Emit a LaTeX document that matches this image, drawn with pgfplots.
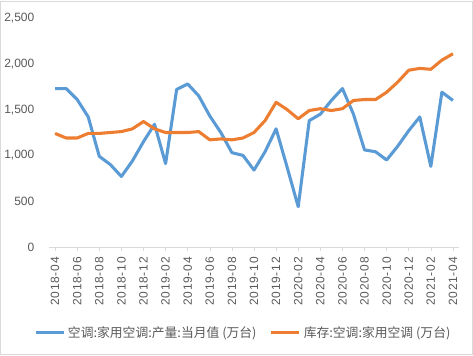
\documentclass[border=0pt]{standalone}
\usepackage{pgfplots}
\usepackage{pgfplotstable}
\pgfplotsset{compat=1.18}
\usepackage{fontspec}
\setmainfont{Liberation Sans}
\newfontfamily\cjk{Noto Sans CJK SC}
\newfontfamily\spaced[LetterSpace=6]{Liberation Sans}
\definecolor{cblue}{HTML}{5B9BD5}
\definecolor{corange}{HTML}{ED7D31}
\definecolor{tgray}{HTML}{595959}
\definecolor{agray}{HTML}{D9D9D9}
\pgfplotstableread{
idx prod inv
0 1730 1240
1 1730 1190
2 1610 1190
3 1420 1240
4 990 1240
5 900 1250
6 770 1260
7 940 1290
8 1150 1370
9 1340 1290
10 910 1250
11 1720 1250
12 1780 1250
13 1650 1260
14 1430 1170
15 1250 1180
16 1030 1170
17 1000 1190
18 840 1250
19 1040 1380
20 1290 1580
21 870 1500
22 440 1400
23 1380 1490
24 1450 1510
25 1600 1490
26 1730 1510
27 1450 1600
28 1060 1610
29 1040 1610
30 950 1690
31 1100 1800
32 1270 1930
33 1420 1950
34 880 1940
35 1690 2040
36 1600 2110
}\datatable
\begin{document}
\begin{tikzpicture}
\begin{axis}[
  scale only axis,
  width=307.5pt, height=171.75pt,
  at={(0,0)}, anchor=south west,
  xmin=-0.55, xmax=36.55,
  ymin=0, ymax=2500,
  axis x line=bottom, axis y line=left,
  axis line style={-, agray},
  y axis line style={draw=none},
  ytick={0,500,...,2500},
  ytick style={draw=none},
  xtick={0,2,...,36},
  xticklabels={2018-04,2018-06,2018-08,2018-10,2018-12,2019-02,2019-04,2019-06,2019-08,2019-10,2019-12,2020-02,2020-04,2020-06,2020-08,2020-10,2020-12,2021-02,2021-04},
  xtick align=outside,
  xtick style={agray, thin},
  major tick length=3pt,
  x tick label style={rotate=90, anchor=east, font=\spaced\fontsize{9}{10}\selectfont, text=tgray, inner xsep=4.5pt, inner ysep=1pt},
  y tick label style={font=\fontsize{9}{10}\selectfont, text=tgray, xshift=-6pt},
  /pgf/number format/assume math mode=true,
  /pgf/number format/1000 sep={,},
  scaled y ticks=false,
  clip=false,
  legend columns=2,
  legend style={at={(-0.037,-0.375)}, anchor=west, draw=none, fill=none,
    font=\cjk\fontsize{9.6}{11}\selectfont, text=tgray, inner xsep=0pt,
    nodes={inner xsep=2pt},
    /tikz/every even column/.append style={column sep=8pt}},
  legend image code/.code={\draw[#1, line width=2.4pt] (0pt,0pt) -- (21pt,0pt);},
]
\addplot[cblue, line width=2.3pt, line join=round, mark=none] table[x=idx, y=prod] {\datatable};
\addlegendentry{空调:家用空调:产量:当月值 (万台)}
\addplot[corange, line width=2.3pt, line join=round, mark=none] table[x=idx, y=inv] {\datatable};
\addlegendentry{库存:空调:家用空调 (万台)}
\end{axis}
\draw[agray, line width=0.75pt] (-36pt,-80.25pt) rectangle (317.25pt,184.5pt);
\pgfresetboundingbox
\useasboundingbox (-36.75pt,-81pt) rectangle (318pt,185.25pt);
\end{tikzpicture}
\end{document}
